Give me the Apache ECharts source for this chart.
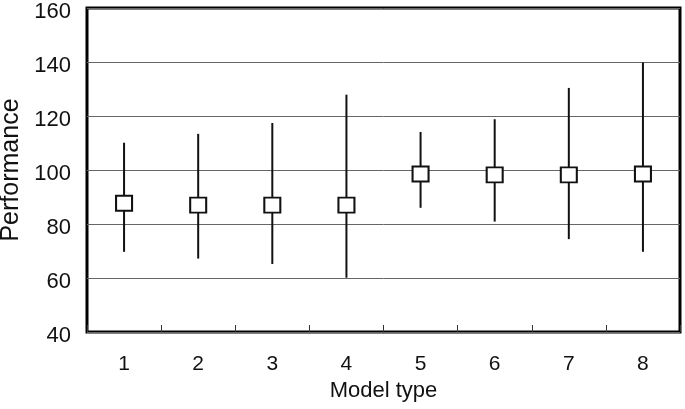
<!DOCTYPE html>
<html>
<head>
<meta charset="utf-8">
<script src="https://cdn.jsdelivr.net/npm/echarts@6/dist/echarts.min.js"></script>
<style>
html,body{margin:0;padding:0;background:#fff;}
#c{width:685px;height:409px;}
</style>
</head>
<body>
<div id="c"></div>
<script>
const categories = ['1','2','3','4','5','6','7','8'];
const meanValues = [87.7, 87.0, 87.0, 87.0, 98.5, 98.2, 98.2, 98.5];
const lowValues  = [69.7, 67.2, 65.2, 60.1, 86.0, 80.9, 74.4, 69.7];
const highValues = [110.1, 113.4, 117.4, 127.9, 114.1, 118.8, 130.4, 139.8];
const yMin = 40, yMax = 160, yStep = 20;

const errData = categories.map((c, i) => [i, lowValues[i], highValues[i]]);
const meanData = categories.map((c, i) => [i, meanValues[i]]);

const chart = echarts.init(document.getElementById('c'), null, {renderer: 'canvas'});
const font = 'Liberation Sans, Arial, sans-serif';
chart.setOption({
  animation: false,
  backgroundColor: '#fff',
  grid: {left: 87, right: 5, top: 8, bottom: 77, containLabel: false, outerBoundsMode: 'none',
         show: true, borderColor: '#000', borderWidth: 3, backgroundColor: 'transparent'},
  xAxis: {
    type: 'category',
    data: categories,
    boundaryGap: true,
    name: 'Model type',
    nameLocation: 'middle',
    nameGap: 47,
    nameTextStyle: {fontFamily: font, fontSize: 22, color: '#111'},
    axisLine: {show: false},
    axisTick: {show: true, inside: true, length: 7, lineStyle: {color: '#333', width: 1}},
    axisLabel: {fontFamily: font, fontSize: 21, color: '#111', margin: 22},
    splitLine: {show: false}
  },
  yAxis: {
    type: 'value',
    min: yMin, max: yMax, interval: yStep,
    name: 'Performance',
    nameLocation: 'middle',
    nameGap: 58,
    nameTextStyle: {fontFamily: font, fontSize: 25, color: '#111'},
    axisLine: {show: false},
    axisTick: {show: false},
    axisLabel: {
      margin: 16,
      formatter: '{v|{value}}',
      rich: {v: {fontFamily: font, fontSize: 22, color: '#111', padding: [8, 0, 0, 0]}}
    },
    splitLine: {show: true, lineStyle: {color: '#666', width: 1}}
  },
  series: [
    {
      type: 'custom',
      data: errData,
      z: 2,
      renderItem: function (params, api) {
        const x = api.value(0);
        const p1 = api.coord([x, api.value(1)]);
        const p2 = api.coord([x, api.value(2)]);
        return {
          type: 'line',
          shape: {x1: p1[0], y1: p1[1], x2: p2[0], y2: p2[1]},
          style: {stroke: '#111', lineWidth: 2}
        };
      },
      encode: {x: 0, y: [1, 2]}
    },
    {
      type: 'scatter',
      data: meanData,
      z: 3,
      symbol: 'rect',
      symbolSize: [16, 15],
      itemStyle: {color: '#fff', borderColor: '#111', borderWidth: 2, opacity: 1}
    }
  ]
});
</script>
</body>
</html>
